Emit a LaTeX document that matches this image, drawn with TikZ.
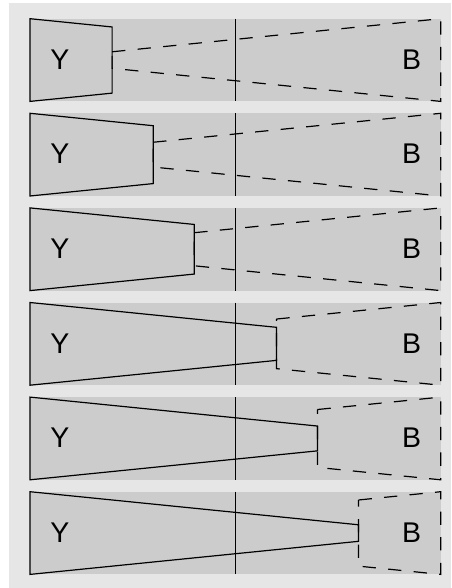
\documentclass[tikz,border=0pt]{standalone}
\usepackage{fontspec}
\setmainfont{Liberation Sans}
\definecolor{bandgray}{RGB}{204,204,204}
\definecolor{bggray}{RGB}{230,230,230}
\begin{document}
\begin{tikzpicture}[x=1pt,y=-1pt,
  bandfill/.style={fill=bandgray, draw=none},
  yshape/.style={draw=black, line width=1.2pt, line join=miter},
  bshape/.style={draw=black, line width=1.2pt, dash pattern=on 13.3pt off 12.3pt},
  midline/.style={draw=black, line width=1.2pt},
  lbl/.style={font=\fontsize{28.5}{31}\selectfont, inner sep=0pt, text=black}]
\useasboundingbox (0,0) rectangle (451,588);
\fill[bggray] (9,3) rectangle (451,588);
\foreach \i/\t in {0/0.2,1/0.3,2/0.4,3/0.6,4/0.7,5/0.8} {
  \pgfmathsetmacro\c{60.05+94.6*\i}
  \pgfmathsetmacro\xr{30+410.7*\t}
  \pgfmathsetmacro\hy{41.35*(1-\t)}
  \pgfmathsetmacro\hb{41.35*\t}
  \fill[bandfill] (30,{\c-41.35}) rectangle (440.7,{\c+41.35});
  \coordinate (BT\i) at (440.7,{\c-41.35});
  \coordinate (BB\i) at (440.7,{\c+41.35});
  \coordinate (BL\i) at (\xr,{\c+\hb});
  \coordinate (BU\i) at (\xr,{\c-\hb});
  \draw[bshape] (BU\i) -- (BT\i) -- (BB\i) -- (BL\i) -- cycle;
  \coordinate (MT\i) at (235.35,{\c-41.35});
  \coordinate (MB\i) at (235.35,{\c+41.35});
  \draw[midline] (MT\i) -- (MB\i);
  \coordinate (YT\i) at (30,{\c-41.35});
  \coordinate (YB\i) at (30,{\c+41.35});
  \coordinate (YRT\i) at (\xr,{\c-\hy});
  \coordinate (YRB\i) at (\xr,{\c+\hy});
  \draw[yshape] (YT\i) -- (YRT\i) -- (YRB\i) -- (YB\i) -- cycle;
  \node[lbl] (Y\i) at (60,{\c-0.5}) {Y};
  \node[lbl] (B\i) at (411.7,{\c-0.5}) {B};
}
\end{tikzpicture}
\end{document}
